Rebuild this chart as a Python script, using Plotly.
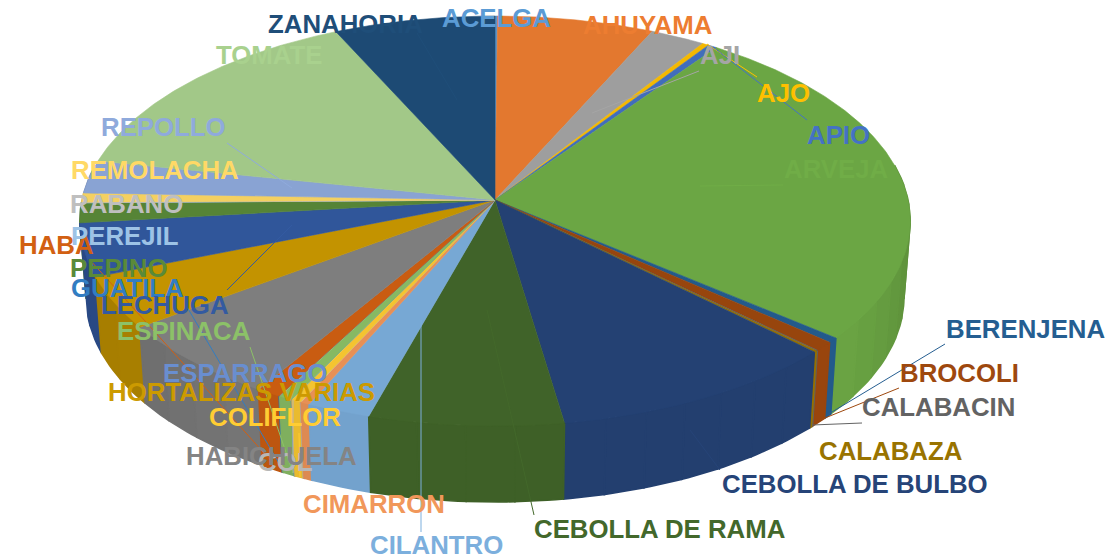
import math
import plotly.graph_objects as go

categories = ["ACELGA", "AHUYAMA", "AJI", "AJO", "APIO", "ARVEJA", "BERENJENA", "BROCOLI",
              "CALABACIN", "CALABAZA", "CEBOLLA DE BULBO", "CEBOLLA DE RAMA", "CILANTRO",
              "CIMARRON", "COL", "COLIFLOR", "ESPARRAGO", "ESPINACA", "GUATILA", "HABA",
              "HABICHUELA", "HORTALIZAS VARIAS", "LECHUGA", "PEPINO", "PEREJIL", "RABANO",
              "REMOLACHA", "REPOLLO", "TOMATE", "ZANAHORIA"]
values = [0.4, 24.2, 8.5, 1.0, 1.4, 94.0, 1.4, 2.6, 0.2, 0.4, 37.2, 24.7, 8.1, 1.1, 0.1, 1.2,
          0.1, 1.7, 0.1, 3.1, 22.4, 14.7, 15.0, 5.6, 0.1, 0.1, 2.6, 9.3, 53.8, 24.9]
colors = ["#5B9BD5", "#ED7D31", "#A5A5A5", "#FFC000", "#4472C4", "#70AD47", "#255E91", "#9E480E",
          "#636363", "#997300", "#264478", "#43682B", "#7CAFDD", "#F1975A", "#B7B7B7", "#FFCD33",
          "#698ED0", "#8CC168", "#327DC2", "#D26012", "#848484", "#CC9A00", "#335AA1", "#5A8A39",
          "#9DC3E6", "#BFBFBF", "#FFD966", "#8FAADC", "#A9D18E", "#1F4E79"]

# label left edge, centre y
label_x = [440, 581, 698, 755, 805, 782, 944, 898, 860, 817, 720, 532, 368, 301, 256, 207,
           161, 115, 69, 17, 184, 106, 99, 68, 69, 68, 69, 99, 214, 266]
label_y = [18, 25, 55, 93, 135, 169, 329, 373, 407, 451, 484, 529, 545, 504, 462, 417,
           373, 331, 288, 245, 456, 392, 305, 268, 236, 204, 170, 127, 55, 24]
# leader lines: category -> (x0, y0, x1, y1)
leaders = {
    "AJI": (592, 113, 699, 71), "AJO": (707, 44, 757, 77), "APIO": (713, 47, 807, 120),
    "ARVEJA": (700, 186, 783, 185), "BERENJENA": (827, 415, 945, 344),
    "BROCOLI": (820, 420, 899, 388), "CALABACIN": (812, 425, 862, 423),
    "CEBOLLA DE BULBO": (690, 430, 720, 470), "CEBOLLA DE RAMA": (487, 310, 534, 515),
    "CILANTRO": (421, 320, 421, 532), "COL": (293, 400, 293, 473), "COLIFLOR": (299, 433, 300, 477),
    "ESPINACA": (250, 347, 293, 473), "GUATILA": (187, 307, 283, 470), "HABA": (90, 260, 273, 463),
    "LECHUGA": (292, 225, 227, 290), "REPOLLO": (227, 143, 292, 188), "ZANAHORIA": (417, 33, 457, 100),
}

CX, CY = 495.0, 200.0
A, B, K = 413.0, 202.8, 0.1024
DEPTH, SHRINK = 76.0, 0.985


def rim(deg, bottom=False):
    t = math.radians(deg)
    s, c = math.sin(t), math.cos(t)
    d = 1 + K * c
    x, y = A * s / d, -B * c / d
    if bottom:
        return CX + x * SHRINK, CY + y + DEPTH
    return CX + x, CY + y


def shade(hex_color, f):
    r, g, b = [int(hex_color[i:i + 2], 16) for i in (1, 3, 5)]
    return f"rgb({int(r * f)},{int(g * f)},{int(b * f)})"


def side_factor(deg):
    if deg < 100 or deg > 260:
        return 0.82 if deg > 180 else 0.84
    if deg < 135:
        return 0.84 + (deg - 100) / 35 * 0.14
    if deg < 200:
        return 0.93
    if deg < 240:
        return 0.93 - (deg - 200) / 40 * 0.11
    return 0.82


total = sum(values)
edges = [0.0]
for v in values:
    edges.append(edges[-1] + v / total * 360)

fig = go.Figure()


def poly(xs, ys, col, lw=0.6):
    fig.add_trace(go.Scatter(x=xs, y=ys, mode="lines", fill="toself", fillcolor=col,
                             line=dict(color=col, width=lw), hoverinfo="skip", showlegend=False))


# sides, from both ends towards the front
order = sorted(range(len(values)), key=lambda i: -abs((edges[i] + edges[i + 1]) / 2 - 180))
for i in order:
    a0, a1 = max(edges[i], 80.0), min(edges[i + 1], 280.0)
    if a1 <= a0:
        continue
    n = max(1, int((a1 - a0) / 5))
    for j in range(n):
        s0 = a0 + (a1 - a0) * j / n
        s1 = a0 + (a1 - a0) * (j + 1) / n
        steps = [s0 + (s1 - s0) * k / 6 for k in range(7)]
        top = [rim(s) for s in steps]
        bot = [rim(s, True) for s in reversed(steps)]
        pts = top + bot + [top[0]]
        poly([p[0] for p in pts], [p[1] for p in pts], shade(colors[i], side_factor((s0 + s1) / 2)), lw=1.6)

# top surface
for i in range(len(values)):
    a0, a1 = edges[i], edges[i + 1]
    n = max(2, int((a1 - a0) / 0.5))
    pts = [(CX, CY)] + [rim(a0 + (a1 - a0) * k / n) for k in range(n + 1)] + [(CX, CY)]
    poly([p[0] for p in pts], [p[1] for p in pts], shade(colors[i], 0.96))

# leader lines
for name, (x0, y0, x1, y1) in leaders.items():
    fig.add_trace(go.Scatter(x=[x0, x1], y=[y0, y1], mode="lines",
                             line=dict(color=colors[categories.index(name)], width=1),
                             hoverinfo="skip", showlegend=False))

# labels
for name, x, y, col in zip(categories, label_x, label_y, colors):
    fig.add_annotation(x=x, y=y, text=f"<b>{name}</b>", showarrow=False, xanchor="left", yanchor="middle",
                       xref="x", yref="y",
                       font=dict(family="Liberation Sans", size=25.8, color=col))

fig.update_layout(width=1105, height=558, margin=dict(l=0, r=0, t=0, b=0), autosize=False,
                  paper_bgcolor="white", plot_bgcolor="white", showlegend=False,
                  xaxis=dict(range=[0, 1105], visible=False, fixedrange=True),
                  yaxis=dict(range=[558, 0], visible=False, fixedrange=True))
fig.write_html("out.html", config={"displayModeBar": False},
               post_script="document.body.style.margin='0';document.documentElement.style.overflow='hidden';")
